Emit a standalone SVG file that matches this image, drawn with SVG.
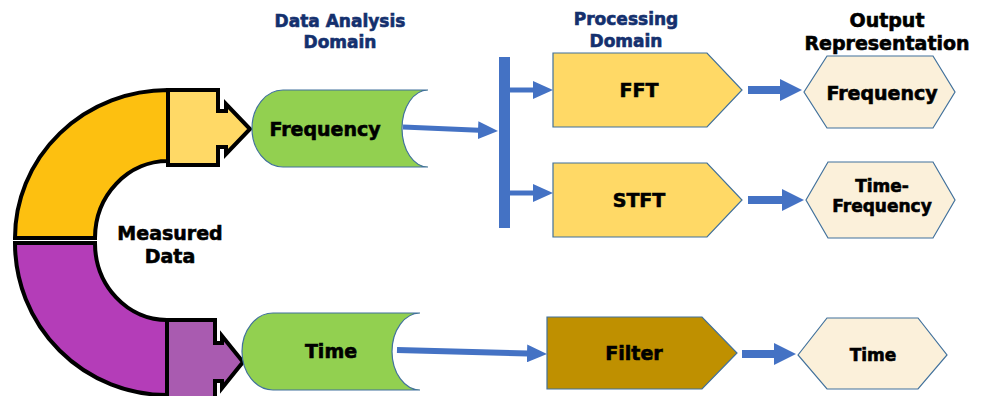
<svg xmlns="http://www.w3.org/2000/svg" width="987" height="396" viewBox="0 0 987 396">
<style>
text{font-family:"DejaVu Sans","Liberation Sans",sans-serif;font-weight:bold;text-anchor:middle;fill:#000;stroke:#000;stroke-width:0.6}
.hd{fill:#14306e;stroke:#14306e;font-size:17px}
.oh{font-size:19px}
.t19{font-size:19px}
.t17{font-size:17px}
.blk{stroke:#000;stroke-width:4;stroke-linejoin:miter}
.node{stroke:#41719C;stroke-width:1.2}
.green{fill:#92D050}
.proc{fill:#FFD966}
.filt{fill:#BF9000}
.hex{fill:#FBF0DA}
.con{stroke:#4472C4;fill:none}
</style>
<defs>
<marker id="ah" markerUnits="userSpaceOnUse" markerWidth="20" markerHeight="18" refX="1" refY="9" orient="auto">
<path d="M0,0 L20,9 L0,18 Z" fill="#4472C4"/>
</marker>
<marker id="ah2" markerUnits="userSpaceOnUse" markerWidth="22" markerHeight="22" refX="1" refY="11" orient="auto">
<path d="M0,0 L22,11 L0,22 Z" fill="#4472C4"/>
</marker>
</defs>
<rect width="987" height="396" fill="#fff"/>

<g id="measured-data">
<path class="blk" fill="#FDC010" d="M15 238 A153 148 0 0 1 168 90 L168 161 A73 77 0 0 0 95 238 Z"/>
<path class="blk" fill="#FFD966" d="M168 90 L218 90 L218 111 L226 111 L226 104 L250 129 L226 154 L226 147 L218 147 L218 165 L168 165 Z"/>
<path class="blk" fill="#B43DB8" d="M15 243 A152 152 0 0 0 167 395 L167 320 A72 77 0 0 1 95 243 Z"/>
<path class="blk" fill="#A95BB0" d="M167 320 L215 320 L215 343 L222 343 L222 336 L243 362 L222 388 L222 381 L215 381 L215 400 L167 400 Z"/>
<text class="t19" x="170" y="240">Measured</text>
<text class="t19" x="170" y="263">Data</text>
</g>

<g id="headings">
<text class="hd" x="340" y="27">Data Analysis</text>
<text class="hd" x="340" y="48">Domain</text>
<text class="hd" x="626" y="25">Processing</text>
<text class="hd" x="626" y="47">Domain</text>
<text class="oh" x="887" y="27">Output</text>
<text class="oh" x="887" y="50">Representation</text>
</g>

<g id="node-frequency">
<path class="node green" d="M283 90 L428 90 A26 38.5 0 0 0 428 167 L283 167 A31 38.5 0 0 1 283 90 Z"/>
<text class="t19" x="325" y="136">Frequency</text>
</g>

<g id="node-time">
<path class="node green" d="M273 313 L420 313 A28 38.5 0 0 0 420 390 L273 390 A31 38.5 0 0 1 273 313 Z"/>
<text class="t19" x="331" y="358">Time</text>
</g>

<g id="node-fft">
<path class="node proc" d="M553 53 L707 53 L742 90 L707 127 L553 127 Z"/>
<text class="t19" x="639" y="97">FFT</text>
</g>

<g id="node-stft">
<path class="node proc" d="M553 163 L707 163 L742 200 L707 237 L553 237 Z"/>
<text class="t19" x="639" y="207">STFT</text>
</g>

<g id="node-filter">
<path class="node filt" d="M547 317 L702 317 L737 353 L702 389 L547 389 Z"/>
<text class="t19" x="634" y="360">Filter</text>
</g>

<g id="out-frequency">
<path class="node hex" d="M804 92 L827 56 L933 56 L955 92 L933 128 L827 128 Z"/>
<text class="t19" x="882" y="100">Frequency</text>
</g>

<g id="out-time-frequency">
<path class="node hex" d="M806 200 L828 162 L933 162 L955 200 L933 238 L828 238 Z"/>
<text class="t17" x="882" y="192">Time-</text>
<text class="t17" x="882" y="212">Frequency</text>
</g>

<g id="out-time">
<path class="node hex" d="M798 355 L827 318 L918 318 L947 355 L918 389 L827 389 Z"/>
<text class="t17" x="873" y="361">Time</text>
</g>

<g id="connectors">
<rect x="499" y="57" width="11" height="171" fill="#4472C4"/>
<line class="con" stroke-width="5" x1="403" y1="127" x2="479" y2="130.2" marker-end="url(#ah)"/>
<line class="con" stroke-width="5" x1="510" y1="90" x2="534" y2="90" marker-end="url(#ah)"/>
<line class="con" stroke-width="5" x1="510" y1="193" x2="534" y2="193" marker-end="url(#ah)"/>
<line class="con" stroke-width="8" x1="748" y1="90" x2="781" y2="90" marker-end="url(#ah2)"/>
<line class="con" stroke-width="8" x1="748" y1="200" x2="783" y2="200" marker-end="url(#ah2)"/>
<line class="con" stroke-width="6" x1="397" y1="350" x2="528" y2="353.5" marker-end="url(#ah)"/>
<line class="con" stroke-width="8" x1="742" y1="354" x2="775" y2="354" marker-end="url(#ah2)"/>
</g>
</svg>
